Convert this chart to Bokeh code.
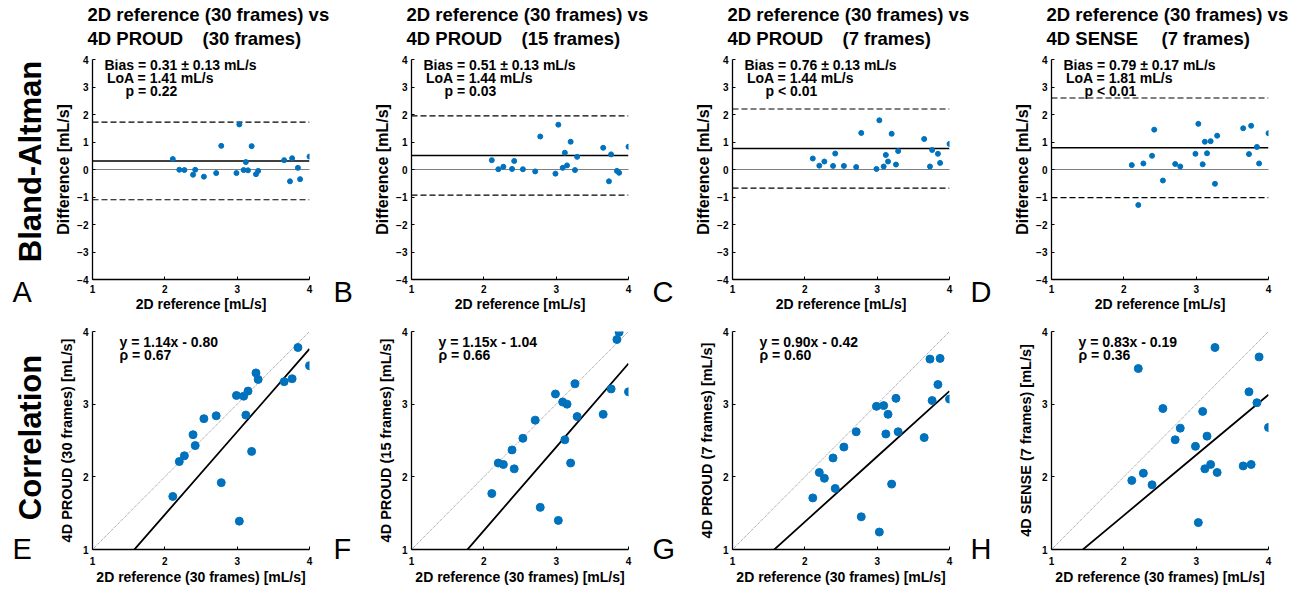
import math
from bokeh.plotting import figure
from bokeh.models import Range1d, Span, Label, FixedTicker
from bokeh.layouts import row, column
from bokeh.embed import file_html
from bokeh.resources import INLINE

FONT = "Liberation Sans"
BLUE = "#0072BD"

# ---------------- data ----------------
ref_2d = [2.11, 2.20, 2.27, 2.39, 2.42, 2.54, 2.71, 2.78, 2.99, 3.03, 3.09,
          3.12, 3.15, 3.20, 3.26, 3.29, 3.65, 3.73, 3.76, 3.84, 3.87, 4.00]
proud_30 = [1.73, 2.21, 2.29, 2.58, 2.43, 2.80, 2.84, 1.92, 3.12, 1.39, 3.11,
            2.85, 3.18, 2.35, 3.43, 3.34, 3.31, 4.16, 3.35, 3.78, 4.22, 3.53]
proud_15 = [1.77, 2.19, 2.17, 2.37, 2.11, 2.53, 2.78, 1.58, 3.14, 1.40, 3.03,
            2.51, 3.00, 2.19, 3.28, 2.83, 2.86, 4.16, 3.21, 3.89, 3.99, 3.17]
proud_7 = [1.71, 2.06, 1.98, 2.26, 1.84, 2.41, 2.62, 1.45, 2.97, 1.24, 2.98,
           2.59, 2.86, 1.90, 3.08, 2.62, 2.54, 3.62, 3.05, 3.27, 3.63, 3.07]
sense_7 = [1.95, 3.49, 2.05, 1.89, 0.97, 2.94, 2.51, 2.67, 2.42, 1.37, 2.90,
           2.11, 2.56, 2.17, 3.78, 2.06, 2.15, 3.17, 2.17, 3.02, 3.65, 2.68]

methods = ["4D PROUD", "4D PROUD", "4D PROUD", "4D SENSE"]
frames = ["(30 frames)", "(15 frames)", "(7 frames)", "(7 frames)"]
bias = [0.31, 0.51, 0.76, 0.79]
bias_se = [0.13, 0.13, 0.13, 0.17]
loa = [1.41, 1.44, 1.44, 1.81]
p_text = ["p = 0.22", "p = 0.03", "p < 0.01", "p < 0.01"]
slope = [1.14, 1.15, 0.90, 0.83]
intercept = [-0.80, -1.04, -0.42, -0.19]
rho = [0.67, 0.66, 0.60, 0.36]
letters_top = ["A", "B", "C", "D"]
letters_bottom = ["E", "F", "G", "H"]
x_ticks = [1, 2, 3, 4]
ba_y_ticks = [-4, -3, -2, -1, 0, 1, 2, 3, 4]
corr_y_ticks = [1, 2, 3, 4]
values_4d = [proud_30, proud_15, proud_7, sense_7]

# ---------------- layout (pixels) ----------------
FRAME_W = 217
FRAME_L = [92, 411, 732, 1051]     # page x of each panel's left axis
SPACER_W = [48, 47, 48, 48]
LETTER_X = [12, 10, 10, 7]
RIGHT_B = 14
HEADER_W = 1292
HEADER_H = 52
TOP_T, TOP_H, TOP_B = 7, 220, 40
BOT_T, BOT_H, BOT_B = 12, 218, 39
ROW2_H = TOP_T + TOP_H + TOP_B
ROW3_H = BOT_T + BOT_H + BOT_B
BODY_H = ROW2_H + ROW3_H

lefts = []
cursor = 0
for i in range(4):
    cursor += SPACER_W[i]
    lefts.append(FRAME_L[i] - cursor)
    cursor += lefts[i] + FRAME_W + RIGHT_B


def text_fig(w, h):
    f = figure(width=w, height=h, x_range=Range1d(0, w), y_range=Range1d(0, h),
               title=None, x_axis_type=None, y_axis_type=None,
               output_backend="svg", toolbar_location=None,
               min_border_left=0, min_border_right=0, min_border_top=0,
               min_border_bottom=0)
    f.outline_line_color = None
    f.background_fill_color = "white"
    f.border_fill_color = "white"
    return f


def put(f, x, y, text, size, bold=True, align="left", baseline="middle",
        angle=0.0, units="data"):
    f.add_layout(Label(x=x, y=y, x_units=units, y_units=units, text=text,
                       text_font=FONT, text_font_size=f"{size}px",
                       text_font_style="bold" if bold else "normal",
                       text_align=align, text_baseline=baseline,
                       angle=angle, text_color="black"))


def make_fig(i, top, fh, bottom, xr, yr, yticks, xlabel, ylabel,
             tick_standoff, label_standoff, ylabel_size, ylabel_standoff):
    p = figure(width=lefts[i] + FRAME_W + RIGHT_B, height=top + fh + bottom,
               x_range=Range1d(*xr), y_range=Range1d(*yr), title=None,
               output_backend="svg", toolbar_location=None,
               min_border_left=lefts[i], min_border_right=RIGHT_B,
               min_border_top=top, min_border_bottom=bottom)
    p.outline_line_color = None
    p.grid.visible = False
    p.background_fill_color = "white"
    p.border_fill_color = "white"
    p.xaxis.ticker = FixedTicker(ticks=x_ticks)
    p.yaxis.ticker = FixedTicker(ticks=yticks)
    p.xaxis.axis_label = xlabel
    p.yaxis.axis_label = ylabel
    for ax in (p.xaxis, p.yaxis):
        ax.axis_line_color = "black"
        ax.axis_line_width = 1.3
        ax.major_tick_in = 3
        ax.major_tick_out = 0
        ax.major_tick_line_color = "black"
        ax.major_tick_line_width = 1
        ax.minor_tick_line_color = None
        ax.major_label_text_font = FONT
        ax.major_label_text_font_style = "bold"
        ax.major_label_text_font_size = "10px"
        ax.major_label_text_color = "black"
        ax.axis_label_text_font = FONT
        ax.axis_label_text_font_style = "bold"
        ax.axis_label_text_color = "black"
    p.xaxis.major_label_standoff = tick_standoff
    p.yaxis.major_label_standoff = 4
    p.xaxis.axis_label_text_font_size = "14px"
    p.xaxis.axis_label_standoff = label_standoff
    p.yaxis.axis_label_text_font_size = f"{ylabel_size}px"
    p.yaxis.axis_label_standoff = ylabel_standoff
    return p


# ---------- header with the panel titles (text centres at page y 14 / 37.5) ----------
header = text_fig(HEADER_W, HEADER_H)
for i in range(4):
    x0 = FRAME_L[i] - 5
    put(header, x0, HEADER_H - 14, "2D reference (30 frames) vs", 18.5)
    put(header, x0, HEADER_H - 37.5, methods[i], 18.5)
    put(header, x0 + 115, HEADER_H - 37.5, frames[i], 18.5)

body = []
for i in range(4):
    vals = values_4d[i]

    # tall spacer holding the panel letters (and the row names)
    s = text_fig(SPACER_W[i], BODY_H)

    def page_y(py):
        return BODY_H - (py - HEADER_H)

    put(s, LETTER_X[i], page_y(291), letters_top[i], 29, bold=False)
    put(s, LETTER_X[i], page_y(548.5), letters_bottom[i], 29, bold=False)
    if i == 0:
        put(s, 30, page_y(161), "Bland-Altman", 31, align="center",
            angle=math.pi / 2)
        put(s, 30, page_y(437), "Correlation", 31, align="center",
            angle=math.pi / 2)

    # ---------- Bland-Altman ----------
    xr, yr = (1, 4), (-4, 4)
    p = make_fig(i, TOP_T, TOP_H, TOP_B, xr, yr, ba_y_ticks,
                 "2D reference [mL/s]", "Difference [mL/s]", 5, 0, 16, 2)
    diff = [r - v for r, v in zip(ref_2d, vals)]
    p.add_layout(Span(location=0, dimension="width", line_color="black",
                      line_width=1, line_dash="1 1", level="underlay"))
    p.add_layout(Span(location=bias[i], dimension="width", line_color="black",
                      line_width=1.5, level="underlay"))
    for sgn in (1, -1):
        p.add_layout(Span(location=bias[i] + sgn * loa[i], dimension="width",
                          line_color="black", line_width=1.2,
                          line_dash="6 3", level="underlay"))
    p.scatter(x=ref_2d, y=diff, size=5, color=BLUE, line_color=BLUE)
    put(p, 12, TOP_H - 5, f"Bias = {bias[i]:.2f} ± {bias_se[i]:.2f} mL/s", 14,
        units="screen")
    put(p, 14.5, TOP_H - 18, f"LoA = {loa[i]:.2f} mL/s", 14, units="screen")
    put(p, 33, TOP_H - 31, p_text[i], 14, units="screen")

    # ---------- Correlation ----------
    xr, yr = (1, 4), (1, 4)
    q = make_fig(i, BOT_T, BOT_H, BOT_B, xr, yr, corr_y_ticks,
                 "2D reference (30 frames) [mL/s]",
                 f"{methods[i]} {frames[i]} [mL/s]", 7, 1, 14.5, 5)
    q.line(x=x_ticks, y=x_ticks, line_color="#8c8c8c", line_width=1,
           line_dash="1 1")
    fit = [slope[i] * t + intercept[i] for t in x_ticks]
    q.line(x=x_ticks, y=fit, line_color="black", line_width=1.8)
    # as in the original, markers whose centre lies outside the axes are not drawn
    keep = [k for k, v in enumerate(vals) if yr[0] <= v <= yr[1]]
    q.scatter(x=[ref_2d[k] for k in keep], y=[vals[k] for k in keep],
              size=8, color=BLUE, line_color=BLUE)
    put(q, 27, BOT_H - 10, f"y = {slope[i]:.2f}x - {abs(intercept[i]):.2f}", 14,
        units="screen")
    put(q, 27, BOT_H - 23.5, f"ρ = {rho[i]:.2f}", 14, units="screen")

    body += [s, column(p, q)]

layout = column(header, row(*body))
open("out.html", "w").write(file_html(layout, INLINE))
